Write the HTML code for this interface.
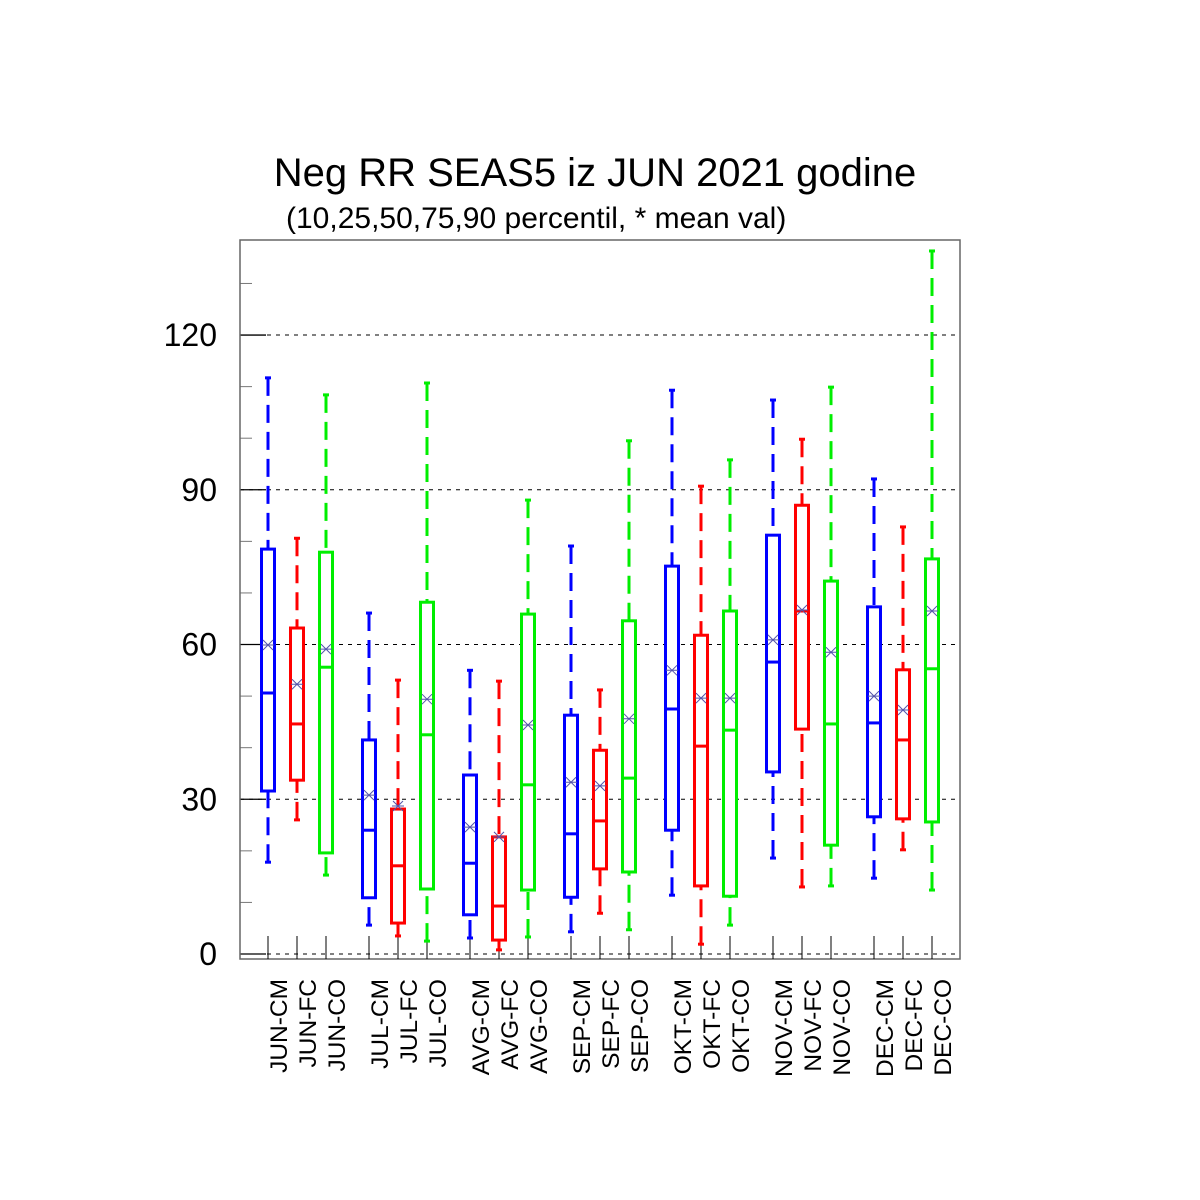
<!DOCTYPE html>
<html><head><meta charset="utf-8"><style>
body{margin:0;background:#fff}
svg{display:block;font-family:"Liberation Sans",sans-serif}
</style></head><body>
<svg id="chart" width="1200" height="1200" viewBox="0 0 1200 1200" xmlns="http://www.w3.org/2000/svg">
<text x="595" y="186" font-size="40" text-anchor="middle">Neg RR SEAS5 iz JUN 2021 godine</text>
<text x="286" y="228" font-size="30">(10,25,50,75,90 percentil, * mean val)</text>
<g id="plot"></g>
</svg>
<script>
const categories=["JUN-CM","JUN-FC","JUN-CO","JUL-CM","JUL-FC","JUL-CO","AVG-CM","AVG-FC","AVG-CO","SEP-CM","SEP-FC","SEP-CO","OKT-CM","OKT-FC","OKT-CO","NOV-CM","NOV-FC","NOV-CO","DEC-CM","DEC-FC","DEC-CO"];
const p10=[17.8,26,15.3,5.6,3.5,2.5,3.1,0.8,3.3,4.3,7.9,4.7,11.4,1.9,5.6,18.6,13,13.2,14.7,20.2,12.4];
const p25=[31.6,33.7,19.6,10.9,6,12.6,7.6,2.7,12.4,11,16.5,15.9,24,13.2,11.2,35.3,43.6,21.1,26.6,26.2,25.6];
const p50=[50.6,44.6,55.6,24,17.1,42.5,17.6,9.3,32.8,23.3,25.8,34.1,47.5,40.3,43.4,56.6,66.5,44.6,44.8,41.5,55.3];
const p75=[78.5,63.2,77.9,41.5,28.1,68.2,34.7,22.7,65.9,46.3,39.5,64.6,75.2,61.8,66.5,81.2,87,72.3,67.3,55.1,76.6];
const p90=[111.7,80.6,108.4,66.1,53.1,110.7,55,52.9,88,79.1,51.2,99.5,109.3,90.7,95.8,107.4,99.8,109.9,92.1,82.8,136.3];
const means=[59.9,52.3,59.1,30.8,28.7,49.4,24.6,22.7,44.4,33.3,32.6,45.6,55,49.6,49.6,60.9,66.7,58.5,50,47.3,66.5];
const yTicks=[0,30,60,90,120];
const colors=["#0000ff","#ff0000","#00ee00"];
const NS="http://www.w3.org/2000/svg";
const g=document.getElementById("plot");
const X0=240,X1=960,Y0=240,Y1=959;
function ys(v){return 954-v*5.158;}
function xs(i){return 268+Math.floor(i/3)*101+(i%3)*29;}
function mk(t,a,parent){const e=document.createElementNS(NS,t);for(const k in a)e.setAttribute(k,a[k]);(parent||g).appendChild(e);return e;}
for(const t of yTicks){
 const l=mk("line",{x1:X0,x2:X1,y1:ys(t),y2:ys(t),stroke:"#000","stroke-width":1,"stroke-dasharray":"4,5"});
 
 
 const tk=mk("line",{x1:X0,x2:X0+26,y1:ys(t),y2:ys(t),stroke:"#000","stroke-width":1.3});
 
 
 const tx=mk("text",{x:217,y:ys(t)+11,"font-size":32,"text-anchor":"end"});
 tx.textContent=t;
 
 
}
for(let v=10;v<=130;v+=10){if(v%30===0)continue;
 const tk=mk("line",{x1:X0,x2:X0+12,y1:ys(v),y2:ys(v),stroke:"#777","stroke-width":1});
 
 
}
const fr=mk("rect",{x:X0,y:Y0,width:X1-X0,height:Y1-Y0,fill:"none",stroke:"#666","stroke-width":1.5});


categories.forEach((c,i)=>{
 const x=xs(i),col=colors[i%3];
 const grp=mk("g",{});
 
 
 const bt=mk("line",{x1:x,x2:x,y1:936,y2:Y1,stroke:"#000","stroke-width":1},grp);
 
 
 const w1=mk("line",{x1:x,x2:x,y1:ys(p90[i]),y2:ys(p75[i]),stroke:col,"stroke-width":3,"stroke-dasharray":"18,9"},grp);
 
 
 const w2=mk("line",{x1:x,x2:x,y1:ys(p10[i]),y2:ys(p25[i]),stroke:col,"stroke-width":3,"stroke-dasharray":"18,9"},grp);
 
 
 for(const v of [p10[i],p90[i]]){
  const cp=mk("line",{x1:x-3,x2:x+3,y1:ys(v),y2:ys(v),stroke:col,"stroke-width":3},grp);
  
  
 }
 const r=mk("rect",{x:x-6.5,y:ys(p75[i]),width:13,height:ys(p25[i])-ys(p75[i]),fill:"#fff",stroke:col,"stroke-width":3},grp);
 
 
 const m=mk("line",{x1:x-6.5,x2:x+6.5,y1:ys(p50[i]),y2:ys(p50[i]),stroke:col,"stroke-width":3},grp);
 
 
 const my=ys(means[i]);
 const mm=mk("path",{d:`M${x-5} ${my-5}L${x+5} ${my+5}M${x-5} ${my+5}L${x+5} ${my-5}M${x-6} ${my}L${x+6} ${my}`,stroke:"#5555aa","stroke-width":1,fill:"none"},grp);
 
 
 const t=mk("text",{transform:`translate(${x+19},979) rotate(-90)`,"font-size":24.5,"text-anchor":"end"},grp);
 t.textContent=c;
 
 
});
</script>
</body></html>
